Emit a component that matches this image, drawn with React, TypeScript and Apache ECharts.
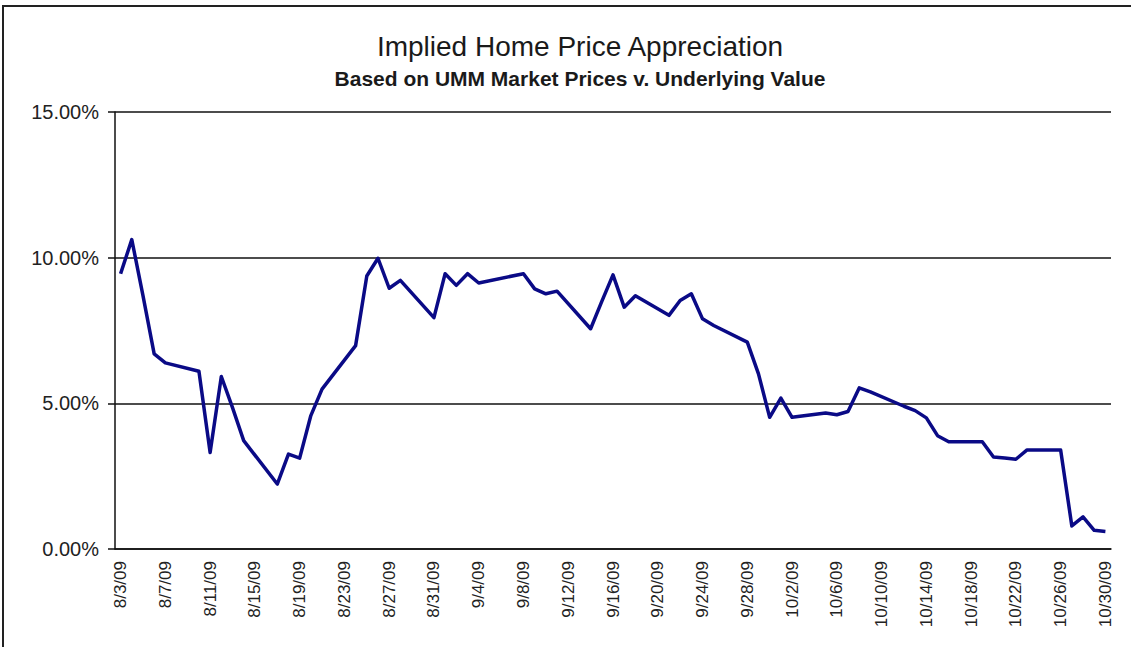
import React, { useEffect, useRef } from "react";
import * as echarts from "echarts";

const TITLE = "Implied Home Price Appreciation";
const SUBTITLE = "Based on UMM Market Prices v. Underlying Value";

// Calendar days 8/3/09 .. 10/30/09 (every day; weekends/holidays have no value)
const categories = [
  "8/3/09", "8/4/09", "8/5/09", "8/6/09", "8/7/09", "8/8/09", "8/9/09",
  "8/10/09", "8/11/09", "8/12/09", "8/13/09", "8/14/09", "8/15/09", "8/16/09",
  "8/17/09", "8/18/09", "8/19/09", "8/20/09", "8/21/09", "8/22/09", "8/23/09",
  "8/24/09", "8/25/09", "8/26/09", "8/27/09", "8/28/09", "8/29/09", "8/30/09",
  "8/31/09", "9/1/09", "9/2/09", "9/3/09", "9/4/09", "9/5/09", "9/6/09",
  "9/7/09", "9/8/09", "9/9/09", "9/10/09", "9/11/09", "9/12/09", "9/13/09",
  "9/14/09", "9/15/09", "9/16/09", "9/17/09", "9/18/09", "9/19/09", "9/20/09",
  "9/21/09", "9/22/09", "9/23/09", "9/24/09", "9/25/09", "9/26/09", "9/27/09",
  "9/28/09", "9/29/09", "9/30/09", "10/1/09", "10/2/09", "10/3/09", "10/4/09",
  "10/5/09", "10/6/09", "10/7/09", "10/8/09", "10/9/09", "10/10/09", "10/11/09",
  "10/12/09", "10/13/09", "10/14/09", "10/15/09", "10/16/09", "10/17/09", "10/18/09",
  "10/19/09", "10/20/09", "10/21/09", "10/22/09", "10/23/09", "10/24/09", "10/25/09",
  "10/26/09", "10/27/09", "10/28/09", "10/29/09", "10/30/09",
];

// Implied appreciation, percent
const appreciation: (number | null)[] = [
  9.45, 10.62, 8.7, 6.7, 6.39, null, null,
  6.1, 3.31, 5.92, 4.85, 3.72, null, null,
  2.23, 3.26, 3.12, 4.58, 5.49, null, null,
  6.98, 9.37, 9.98, 8.95, 9.22, null, null,
  7.94, 9.45, 9.05, 9.45, 9.13, null, null,
  null, 9.45, 8.93, 8.76, 8.85, null, null,
  7.56, 8.5, 9.41, 8.3, 8.69, null, null,
  8.02, 8.53, 8.76, 7.9, 7.67, null, null,
  7.1, 6.01, 4.52, 5.18, 4.52, null, null,
  4.67, 4.61, 4.72, 5.53, 5.39, null, null,
  4.9, 4.75, 4.5, 3.89, 3.68, null, null,
  3.68, 3.16, 3.12, 3.08, 3.4, null, null,
  3.4, 0.79, 1.1, 0.64, 0.6,
];

const Y_MIN = 0;
const Y_MAX = 15;
const Y_STEP = 5;

export default function App() {
  const ref = useRef<HTMLDivElement>(null);

  useEffect(() => {
    if (!ref.current) return;
    const chart = echarts.init(ref.current, null, { renderer: "svg" });
    const font = "'Liberation Sans', Arial, sans-serif";
    chart.setOption({
      animation: false,
      backgroundColor: "#ffffff",
      textStyle: { fontFamily: font },
      title: [
        {
          text: TITLE,
          left: 575,
          top: 27,
          textAlign: "center",
          textStyle: { fontFamily: font, fontSize: 28, fontWeight: "normal", color: "#1a1a1a" },
        },
        {
          text: SUBTITLE,
          left: 575,
          top: 63,
          textAlign: "center",
          textStyle: { fontFamily: font, fontSize: 21, fontWeight: "bold", color: "#1a1a1a" },
        },
      ],
      graphic: [
        {
          type: "rect",
          shape: { x: 3, y: 6, width: 1200, height: 700 },
          style: { fill: "none", stroke: "#222", lineWidth: 2 },
          silent: true,
        },
      ],
      grid: { left: 115, right: 20, top: 112, bottom: 98, containLabel: false },
      xAxis: {
        type: "category",
        data: categories,
        boundaryGap: true,
        axisLine: { lineStyle: { color: "#111", width: 1.5 } },
        axisTick: { interval: 3, length: 6, lineStyle: { color: "#111", width: 1.5 } },
        axisLabel: {
          interval: 3,
          rotate: 90,
          margin: 12,
          fontSize: 17,
          color: "#222",
          fontFamily: font,
        },
        splitLine: { show: false },
      },
      yAxis: {
        type: "value",
        min: Y_MIN,
        max: Y_MAX,
        interval: Y_STEP,
        axisLine: { show: true, lineStyle: { color: "#111", width: 1.5 } },
        axisTick: { show: true, length: 7, lineStyle: { color: "#111", width: 1.5 } },
        axisLabel: {
          margin: 16,
          fontSize: 20,
          color: "#222",
          fontFamily: font,
          formatter: (v: number) => v.toFixed(2) + "%",
        },
        splitLine: { show: true, lineStyle: { color: "#111", width: 1.5 } },
      },
      series: [
        {
          type: "line",
          data: appreciation,
          connectNulls: true,
          symbol: "none",
          lineStyle: { color: "#0a0a86", width: 3.5, join: "round" },
        },
      ],
    });
    return () => chart.dispose();
  }, []);

  return (
    <div
      ref={ref}
      style={{ position: "fixed", left: 0, top: 0, width: 1131, height: 647 }}
    />
  );
}
